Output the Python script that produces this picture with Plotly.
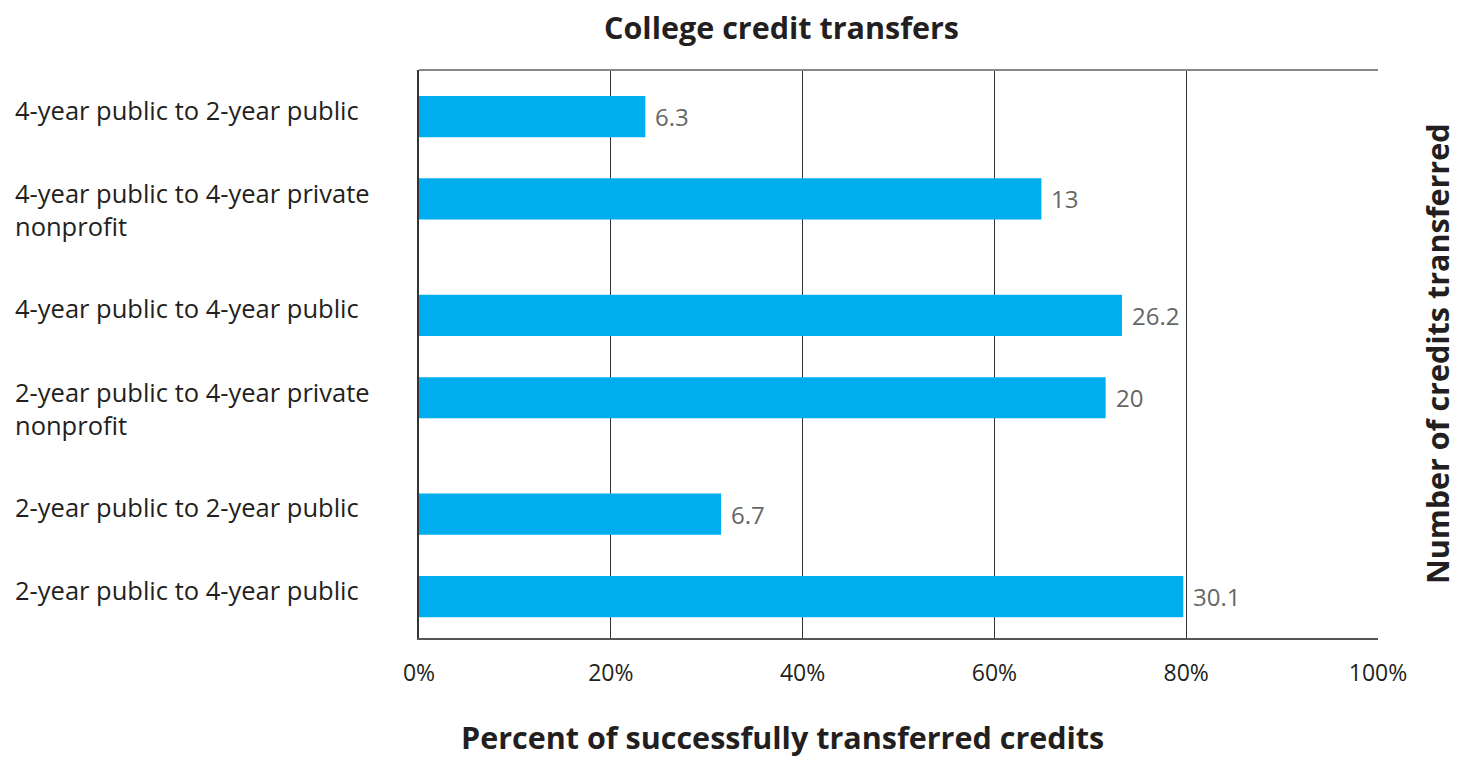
import plotly.graph_objects as go

# ---- data ----
categories = [
    "4-year public to 2-year public",
    "4-year public to 4-year private<br>nonprofit",
    "4-year public to 4-year public",
    "2-year public to 4-year private<br>nonprofit",
    "2-year public to 2-year public",
    "2-year public to 4-year public",
]
percent_transferred = [23.6, 64.9, 73.3, 71.6, 31.5, 79.7]
credits_transferred = [6.3, 13, 26.2, 20, 6.7, 30.1]
tick_values = [0, 20, 40, 60, 80, 100]
tick_labels = ["0%", "20%", "40%", "60%", "80%", "100%"]

FONT = "Open Sans, Noto Sans, sans-serif"
BAR_COLOR = "#00AEEF"

# ---- row layout: rows with wrapped (two-line) labels take extra room below ----
line_counts = [c.count("<br>") + 1 for c in categories]
extra_per_line = 0.41
positions = [0.0]
for i in range(1, len(categories)):
    positions.append(positions[-1] + 1 + extra_per_line * (line_counts[i - 1] - 1))

fig = go.Figure()
fig.add_trace(go.Bar(
    x=percent_transferred,
    y=positions,
    orientation="h",
    width=0.5,
    marker=dict(color=BAR_COLOR, line=dict(width=0)),
    hoverinfo="skip",
))

annotations = []
# value labels
for xv, yv, lab in zip(percent_transferred, positions, credits_transferred):
    annotations.append(dict(
        x=xv, y=yv, xref="x", yref="y", text=str(lab), showarrow=False,
        xanchor="left", yanchor="middle", xshift=8, yshift=0,
        font=dict(family=FONT, size=24, color="#666666"),
    ))
# category labels (left aligned)
for yv, cat, n in zip(positions, categories, line_counts):
    ys = 7 if n == 1 else -11
    annotations.append(dict(
        x=-0.4234, y=yv, xref="paper", yref="y", text=cat, showarrow=False,
        xanchor="left", yanchor="middle", align="left", yshift=ys,
        font=dict(family=FONT, size=25.5, color="#231F20"),
    ))
# titles
annotations.append(dict(
    x=0.3785, y=1.0757, xref="paper", yref="paper", text="<b>College credit transfers</b>",
    showarrow=False, xanchor="center", yanchor="middle",
    font=dict(family=FONT, size=30.5, color="#231F20"),
))
annotations.append(dict(
    x=0.379, y=-0.1735, xref="paper", yref="paper",
    text="<b>Percent of successfully transferred credits</b>",
    showarrow=False, xanchor="center", yanchor="middle",
    font=dict(family=FONT, size=30.5, color="#231F20"),
))
annotations.append(dict(
    x=1.0616, y=0.5, xref="paper", yref="paper",
    text="<b>Number of credits transferred</b>", textangle=-90,
    showarrow=False, xanchor="center", yanchor="middle",
    font=dict(family=FONT, size=30.5, color="#231F20"),
))

fig.update_layout(
    width=1466, height=757,
    margin=dict(l=419, r=88, t=70, b=119),
    paper_bgcolor="white", plot_bgcolor="white",
    showlegend=False,
    annotations=annotations,
    xaxis=dict(
        range=[0, 100], tickvals=tick_values, ticktext=tick_labels,
        showgrid=True, gridcolor="#333333", gridwidth=1,
        showline=True, linecolor="#555555", linewidth=2, mirror=False,
        zeroline=False, ticks="", ticklabelstandoff=13,
        tickfont=dict(family=FONT, size=23, color="#231F20"),
        fixedrange=True,
    ),
    yaxis=dict(
        range=[positions[-1] + 0.503, -0.564],
        showticklabels=False, showgrid=False, zeroline=False,
        showline=True, linecolor="#333333", linewidth=1.5,
        ticks="", fixedrange=True,
    ),
    shapes=[dict(
        type="line", xref="paper", yref="paper", x0=0, x1=1, y0=1, y1=1,
        line=dict(color="#888888", width=2),
    )],
)

fig.write_html(
    "out.html",
    config={"displayModeBar": False},
    post_script="document.body.style.margin='0';document.body.style.overflow='hidden';",
)
